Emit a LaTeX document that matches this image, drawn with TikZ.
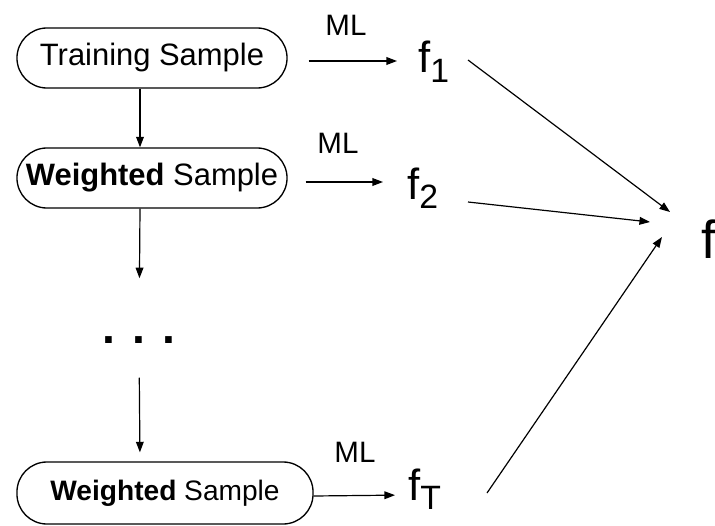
\documentclass[tikz,border=0pt]{standalone}
\usepackage{fontspec}
\setmainfont{Liberation Sans}
\usetikzlibrary{arrows.meta}
\tikzset{
  smp/.style={draw, line width=0.95pt, rounded corners=0.75cm, minimum width=6.75cm, minimum height=1.5cm, inner sep=0pt},
  conn/.style={draw, line width=0.85pt, -{Triangle[length=7.5pt,width=5.5pt]}},
  ml/.style={font=\fontsize{21}{25}\selectfont, inner sep=0pt},
  fn/.style={font=\fontsize{31}{36}\selectfont, inner sep=0pt, anchor=base west},
}
\newcommand{\fsub}[1]{\raisebox{-7pt}{\fontsize{24}{28}\selectfont #1}}

\begin{document}
\begin{tikzpicture}[x=0.025cm,y=-0.025cm]
  \useasboundingbox (0,0) rectangle (715,525);

  % sample boxes
  \node[smp, font=\fontsize{22}{26}\selectfont] (train) at (152,58) {Training Sample};
  \node[smp, font=\fontsize{22}{26}\selectfont] (w1) at (152,178) {\textbf{Weighted} Sample};
  \node[font=\bfseries\fontsize{33}{38}\selectfont, inner sep=0pt] (dots) at (139,340) {. . .};
  \node[smp, minimum width=7.4cm, minimum height=1.55cm, font=\fontsize{20}{24}\selectfont] (w2) at (165,493) {\textbf{Weighted} Sample};

  % classifiers
  \node[fn] (f1) at (418,73) {f\fsub{1}};
  \node[fn] (f2) at (407,199) {f\fsub{2}};
  \node[fn] (fT) at (408,500) {f\fsub{T}};
  \node[fn, font=\fontsize{38}{44}\selectfont] (f) at (701,258) {f};

  \node[ml] (ml1) at (346,25) {ML};
  \node[ml] (ml2) at (338,143) {ML};
  \node[ml] (ml3) at (355,452) {ML};

  % ends of the arrows into f
  \coordinate (in1) at ([shift={(-31,-46)}]f.base west);
  \coordinate (in2) at ([shift={(-51,-36)}]f.base west);
  \coordinate (in3) at ([shift={(-39,-21)}]f.base west);

  % down the column
  \draw[conn] ([shift={(-12,0)}]train.south) -- ([shift={(-12,0)}]w1.north);
  \draw[conn, shorten >=1.45cm] ([shift={(-12,0)}]w1.south) -- (dots.north);
  \draw[conn, shorten <=0.85cm, shorten >=0.225cm] (dots.south) -- ([shift={(-25,0)}]w2.north);

  % learning step
  \draw[conn, shorten <=0.525cm, shorten >=0.525cm] ([shift={(0,3)}]train.east) -- ([shift={(0,3)}]train.east -| f1.base west);
  \draw[conn, shorten <=0.45cm, shorten >=0.6cm] ([shift={(0,4)}]w1.east) -- ([shift={(0,4)}]w1.east -| f2.base west);
  \draw[conn, shorten >=0.325cm] ([shift={(0,3)}]w2.east) -- ([shift={(0,2)}]w2.east -| fT.base west);

  % combination
  \draw[conn] ([shift={(50,-13)}]f1.base west) -- (in1);
  \draw[conn] ([shift={(61,3)}]f2.base west) -- (in2);
  \draw[conn] ([shift={(79,-7)}]fT.base west) -- (in3);
\end{tikzpicture}
\end{document}
